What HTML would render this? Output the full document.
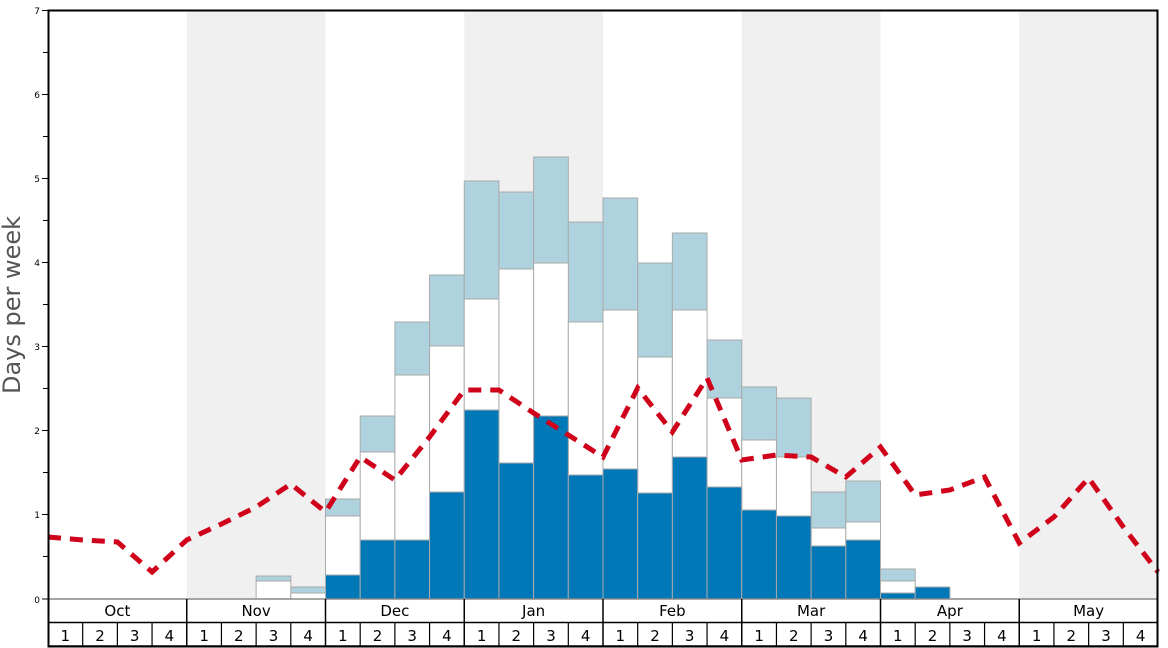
<!DOCTYPE html>
<html><head><meta charset="utf-8"><style>
html,body{margin:0;padding:0;background:#fff;}
svg{display:block;font-family:"DejaVu Sans","Liberation Sans",sans-serif;}
</style></head><body>
<svg width="1168" height="648" viewBox="0 0 1168 648" xmlns="http://www.w3.org/2000/svg">
<rect width="1168" height="648" fill="#fff"/>
<!-- bands -->
<g fill="#f0f0f0">
<rect x="186.75" y="10" width="138.75" height="589"/>
<rect x="464.25" y="10" width="138.75" height="589"/>
<rect x="741.75" y="10" width="138.75" height="589"/>
<rect x="1019.25" y="10" width="138.75" height="589"/>
</g>
<!-- bars -->
<g stroke="#aaaaaa" stroke-width="1">
<g fill="#aed3df">
<rect x="256.13" y="576" width="34.69" height="5"/>
<rect x="290.81" y="587" width="34.69" height="6"/>
<rect x="325.5" y="499" width="34.69" height="17"/>
<rect x="360.19" y="416" width="34.69" height="36"/>
<rect x="394.88" y="322" width="34.69" height="53"/>
<rect x="429.56" y="275" width="34.69" height="71"/>
<rect x="464.25" y="181" width="34.69" height="118"/>
<rect x="498.94" y="192" width="34.69" height="77"/>
<rect x="533.63" y="157" width="34.69" height="106"/>
<rect x="568.31" y="222" width="34.69" height="100"/>
<rect x="603" y="198" width="34.69" height="112"/>
<rect x="637.69" y="263" width="34.69" height="94"/>
<rect x="672.38" y="233" width="34.69" height="77"/>
<rect x="707.06" y="340" width="34.69" height="58"/>
<rect x="741.75" y="387" width="34.69" height="53"/>
<rect x="776.44" y="398" width="34.69" height="59"/>
<rect x="811.13" y="492" width="34.69" height="36"/>
<rect x="845.81" y="481" width="34.69" height="41"/>
<rect x="880.5" y="569" width="34.69" height="12"/>
</g>
<g fill="#ffffff">
<rect x="256.13" y="581" width="34.69" height="18"/>
<rect x="290.81" y="593" width="34.69" height="6"/>
<rect x="325.5" y="516" width="34.69" height="59"/>
<rect x="360.19" y="452" width="34.69" height="88"/>
<rect x="394.88" y="375" width="34.69" height="165"/>
<rect x="429.56" y="346" width="34.69" height="146"/>
<rect x="464.25" y="299" width="34.69" height="111"/>
<rect x="498.94" y="269" width="34.69" height="194"/>
<rect x="533.63" y="263" width="34.69" height="153"/>
<rect x="568.31" y="322" width="34.69" height="153"/>
<rect x="603" y="310" width="34.69" height="159"/>
<rect x="637.69" y="357" width="34.69" height="136"/>
<rect x="672.38" y="310" width="34.69" height="147"/>
<rect x="707.06" y="398" width="34.69" height="89"/>
<rect x="741.75" y="440" width="34.69" height="70"/>
<rect x="776.44" y="457" width="34.69" height="59"/>
<rect x="811.13" y="528" width="34.69" height="18"/>
<rect x="845.81" y="522" width="34.69" height="18"/>
<rect x="880.5" y="581" width="34.69" height="12"/>
</g>
<g fill="#0077b6">
<rect x="325.5" y="575" width="34.69" height="24"/>
<rect x="360.19" y="540" width="34.69" height="59"/>
<rect x="394.88" y="540" width="34.69" height="59"/>
<rect x="429.56" y="492" width="34.69" height="107"/>
<rect x="464.25" y="410" width="34.69" height="189"/>
<rect x="498.94" y="463" width="34.69" height="136"/>
<rect x="533.63" y="416" width="34.69" height="183"/>
<rect x="568.31" y="475" width="34.69" height="124"/>
<rect x="603" y="469" width="34.69" height="130"/>
<rect x="637.69" y="493" width="34.69" height="106"/>
<rect x="672.38" y="457" width="34.69" height="142"/>
<rect x="707.06" y="487" width="34.69" height="112"/>
<rect x="741.75" y="510" width="34.69" height="89"/>
<rect x="776.44" y="516" width="34.69" height="83"/>
<rect x="811.13" y="546" width="34.69" height="53"/>
<rect x="845.81" y="540" width="34.69" height="59"/>
<rect x="880.5" y="593" width="34.69" height="6"/>
<rect x="915.19" y="587" width="34.69" height="12"/>
</g>
</g>
<!-- red dashed line -->
<polyline fill="none" stroke="#d0021b" stroke-width="5" stroke-dasharray="13,9"
points="48,537 82.69,540 117.38,542 152.06,572 186.75,540 221.44,524 256.13,507 290.81,484 325.5,512 360.19,457 394.88,480 429.56,437 464.25,390 498.94,390 533.63,413 568.31,435 603,457 637.69,388 672.38,432 707.06,378 741.75,460 776.44,455 811.13,457 845.81,477 880.5,447 915.19,495 949.88,490 984.56,477 1019.25,543 1053.94,517 1088.63,478 1123.31,527 1158,572"/>
<!-- y axis ticks -->
<g stroke="#000" stroke-width="1">
<line x1="42" y1="10.5" x2="48" y2="10.5"/>
<line x1="43" y1="52.5" x2="48" y2="52.5"/>
<line x1="42" y1="94.5" x2="48" y2="94.5"/>
<line x1="43" y1="136.5" x2="48" y2="136.5"/>
<line x1="42" y1="178.5" x2="48" y2="178.5"/>
<line x1="43" y1="220.5" x2="48" y2="220.5"/>
<line x1="42" y1="262.5" x2="48" y2="262.5"/>
<line x1="43" y1="304.5" x2="48" y2="304.5"/>
<line x1="42" y1="346.5" x2="48" y2="346.5"/>
<line x1="43" y1="388.5" x2="48" y2="388.5"/>
<line x1="42" y1="430.5" x2="48" y2="430.5"/>
<line x1="43" y1="472.5" x2="48" y2="472.5"/>
<line x1="42" y1="514.5" x2="48" y2="514.5"/>
<line x1="43" y1="556.5" x2="48" y2="556.5"/>
<line x1="42" y1="599" x2="48" y2="599"/>
</g>
<g font-size="9" fill="#000" text-anchor="end">
<text x="40" y="14">7</text>
<text x="40" y="98">6</text>
<text x="40" y="182">5</text>
<text x="40" y="266">4</text>
<text x="40" y="350">3</text>
<text x="40" y="434">2</text>
<text x="40" y="518">1</text>
<text x="40" y="603">0</text>
</g>
<text transform="translate(20,305) rotate(-90)" text-anchor="middle" font-size="24" fill="#555">Days per week</text>
<!-- header table -->
<rect x="48" y="599" width="1110" height="47" fill="#fff"/>
<g stroke="#000" stroke-width="1.5" fill="none">
<line x1="48" y1="599" x2="1158" y2="599" stroke="#888"/>
<line x1="48" y1="622.5" x2="1158" y2="622.5"/>
<line x1="48" y1="646" x2="1158" y2="646"/>
</g>
<g stroke="#000" stroke-width="1.5">
<line x1="186.75" y1="599" x2="186.75" y2="646"/>
<line x1="325.5" y1="599" x2="325.5" y2="646"/>
<line x1="464.25" y1="599" x2="464.25" y2="646"/>
<line x1="603" y1="599" x2="603" y2="646"/>
<line x1="741.75" y1="599" x2="741.75" y2="646"/>
<line x1="880.5" y1="599" x2="880.5" y2="646"/>
<line x1="1019.25" y1="599" x2="1019.25" y2="646"/>
</g>
<g stroke="#000" stroke-width="1.2">
<line x1="82.69" y1="622" x2="82.69" y2="646"/><line x1="117.38" y1="622" x2="117.38" y2="646"/><line x1="152.06" y1="622" x2="152.06" y2="646"/>
<line x1="221.44" y1="622" x2="221.44" y2="646"/><line x1="256.13" y1="622" x2="256.13" y2="646"/><line x1="290.81" y1="622" x2="290.81" y2="646"/>
<line x1="360.19" y1="622" x2="360.19" y2="646"/><line x1="394.88" y1="622" x2="394.88" y2="646"/><line x1="429.56" y1="622" x2="429.56" y2="646"/>
<line x1="498.94" y1="622" x2="498.94" y2="646"/><line x1="533.63" y1="622" x2="533.63" y2="646"/><line x1="568.31" y1="622" x2="568.31" y2="646"/>
<line x1="637.69" y1="622" x2="637.69" y2="646"/><line x1="672.38" y1="622" x2="672.38" y2="646"/><line x1="707.06" y1="622" x2="707.06" y2="646"/>
<line x1="776.44" y1="622" x2="776.44" y2="646"/><line x1="811.13" y1="622" x2="811.13" y2="646"/><line x1="845.81" y1="622" x2="845.81" y2="646"/>
<line x1="915.19" y1="622" x2="915.19" y2="646"/><line x1="949.88" y1="622" x2="949.88" y2="646"/><line x1="984.56" y1="622" x2="984.56" y2="646"/>
<line x1="1053.94" y1="622" x2="1053.94" y2="646"/><line x1="1088.63" y1="622" x2="1088.63" y2="646"/><line x1="1123.31" y1="622" x2="1123.31" y2="646"/>
</g>
<g font-size="15" fill="#000" text-anchor="middle">
<text x="117.4" y="616">Oct</text>
<text x="256.1" y="616">Nov</text>
<text x="394.9" y="616">Dec</text>
<text x="533.6" y="616">Jan</text>
<text x="672.4" y="616">Feb</text>
<text x="811.1" y="616">Mar</text>
<text x="949.9" y="616">Apr</text>
<text x="1088.6" y="616">May</text>
</g>
<g font-size="15" fill="#000" text-anchor="middle">
<text x="65.3" y="641">1</text><text x="100" y="641">2</text><text x="134.7" y="641">3</text><text x="169.4" y="641">4</text>
<text x="204.1" y="641">1</text><text x="238.8" y="641">2</text><text x="273.5" y="641">3</text><text x="308.2" y="641">4</text>
<text x="342.8" y="641">1</text><text x="377.5" y="641">2</text><text x="412.2" y="641">3</text><text x="446.9" y="641">4</text>
<text x="481.6" y="641">1</text><text x="516.3" y="641">2</text><text x="551" y="641">3</text><text x="585.7" y="641">4</text>
<text x="620.3" y="641">1</text><text x="655" y="641">2</text><text x="689.7" y="641">3</text><text x="724.4" y="641">4</text>
<text x="759.1" y="641">1</text><text x="793.8" y="641">2</text><text x="828.5" y="641">3</text><text x="863.2" y="641">4</text>
<text x="897.8" y="641">1</text><text x="932.5" y="641">2</text><text x="967.2" y="641">3</text><text x="1001.9" y="641">4</text>
<text x="1036.6" y="641">1</text><text x="1071.3" y="641">2</text><text x="1106" y="641">3</text><text x="1140.7" y="641">4</text>
</g>
<!-- outer frame -->
<rect x="48.5" y="10.5" width="1109" height="636" fill="none" stroke="#000" stroke-width="2"/>
</svg>
</body></html>
